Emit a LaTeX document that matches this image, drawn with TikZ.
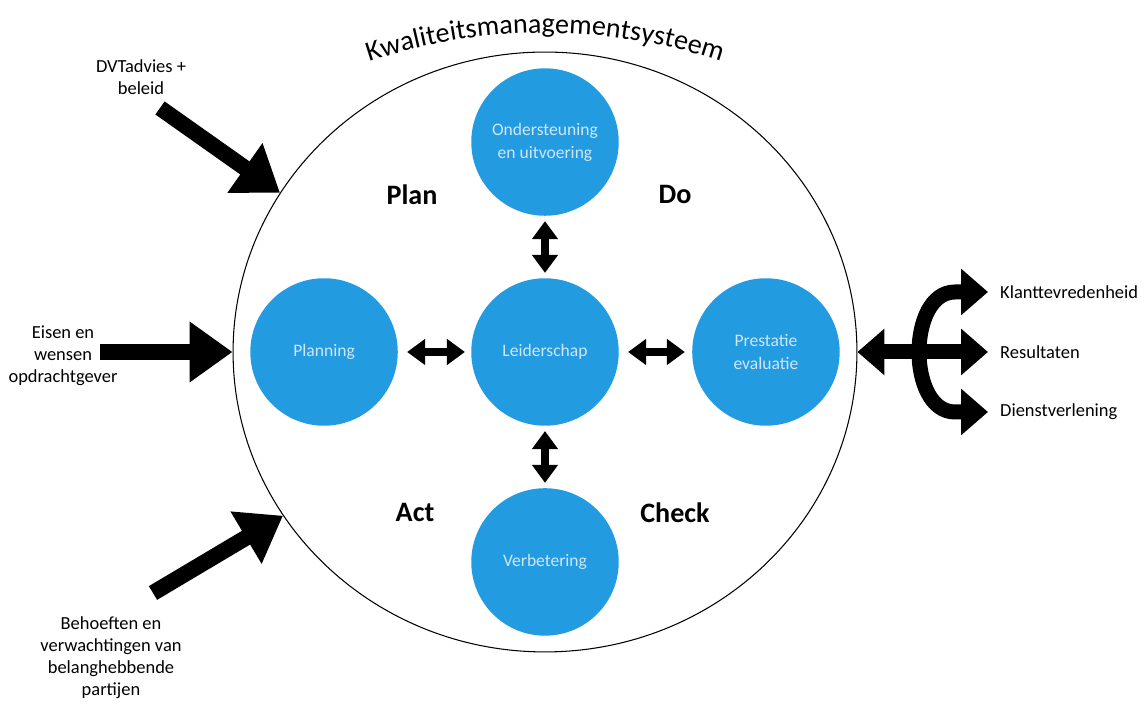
\documentclass[tikz,border=0pt]{standalone}
\usepackage{fontspec}
\setmainfont{Carlito}
\usepackage{tikz}
\usetikzlibrary{shapes.geometric}
\usetikzlibrary{arrows.meta}
\usetikzlibrary{decorations.text}
\definecolor{kmsBlue}{RGB}{35, 155, 225}
\definecolor{kmsText}{RGB}{205, 230, 248}

\begin{document}
\begin{tikzpicture} [
    x=0.02cm, y=0.02cm,
    phase/.style    = { circle, fill=kmsBlue, minimum size=2.95cm, inner sep=0pt,
                        text=kmsText, align=center, font=\fontsize{10}{13}\selectfont},
    pdca/.style     = { font=\fontsize{16}{19}\selectfont\bfseries},
    sidetext/.style = { align=center, font=\fontsize{10.5}{12.5}\selectfont},
    fat/.style      = { line width=0.32cm, -{Triangle[length=0.86cm, width=1.16cm]}},
    fork/.style     = { line width=0.3cm, {Triangle[length=0.54cm, width=0.9cm]}-{Triangle[length=0.54cm, width=0.9cm]}},
    dub/.style      = { line width=0.15cm, {Triangle[length=0.36cm, width=0.5cm]}-{Triangle[length=0.36cm, width=0.5cm]}},
  ]
  \useasboundingbox (0,0) rectangle (1144,705);

%grote cirkel met titel
  \node [ellipse, draw, line width=0.6pt, inner sep=0pt,
         minimum width=12.48cm, minimum height=12cm] (kms) at (545,353) {};
  \path [decorate, decoration={text along path, text align=center,
         text={|\fontsize{16}{19}\selectfont|Kwaliteitsmanagementsysteem}}]
        (337.1,631.6) arc [start angle=112, end angle=68, radius=11.1cm];

%Knooppunten in een matrix
%naam: cijfer = rij; a=links, b=midden, c=rechts
  \matrix [column sep=1.47cm,
		row sep=1.25cm
		] at (545,353) {
                    & \node [phase] (1b) {Ondersteuning\\en uitvoering};
                    	& \\
                    \node [phase] (2a) {Planning};
                    	& \node [phase] (2b) {Leiderschap};
                    		& \node [phase] (2c) {Prestatie\\evaluatie}; \\
                    & \node [phase] (3b) {Verbetering};
                    	& \\
  };

  \node [pdca] (plan)  at (412,510) {Plan};
  \node [pdca] (do)    at (675,510) {Do};
  \node [pdca] (act)   at (415,192) {Act};
  \node [pdca] (check) at (675,192) {Check};

%teksten links en rechts
  \node [sidetext] (dvt)   at (141,628) {DVTadvies +\\beleid};
  \node [sidetext] (eisen) at (63,349)  {Eisen en\\wensen\\opdrachtgever};
  \node [sidetext] (behoe) at (111,47)  {Behoeften en\\verwachtingen van\\belanghebbende\\partijen};

  \node [sidetext, anchor=west] (klant)  at (994,413) {Klanttevredenheid};
  \node [sidetext, anchor=west] (result) at (994,353) {Resultaten};
  \node [sidetext, anchor=west] (dienst) at (994,293) {Dienstverlening};

  \coordinate (dvtIn)   at (160,597);
  \coordinate (eisenIn) at (100,353);
  \coordinate (behoeIn) at (153,112);

%pijlen binnen de cirkel
  \begin{scope} [every path/.style={dub, draw=black, shorten <=0.1cm, shorten >=0.1cm}]
   \path (1b) -- (2b);
   \path (2b) -- (3b);
   \path [shorten <=0.18cm, shorten >=0.12cm] (2a) -- (2b);
   \path [shorten <=0.18cm, shorten >=0.14cm] (2b) -- (2c);
  \end{scope}

%dikke pijlen naar de cirkel
  \begin{scope} [every path/.style={fat, draw=black}]
   \path (dvtIn) -- (kms.149);
   \path (eisenIn) -- (kms.west);
   \path (behoeIn) -- (kms.212);
  \end{scope}

%vork rechts
  \begin{scope} [every path/.style={fork, draw=black}]
   \path [shorten >=0.12cm] (kms.east) -- (result.west);
   \path [shorten <=0.12cm, shorten >=0.12cm] (klant.west) -- (955,413)
         .. controls (907,413) and (907,293) .. (955,293) -- (dienst.west);
  \end{scope}
\end{tikzpicture}
\end{document}
